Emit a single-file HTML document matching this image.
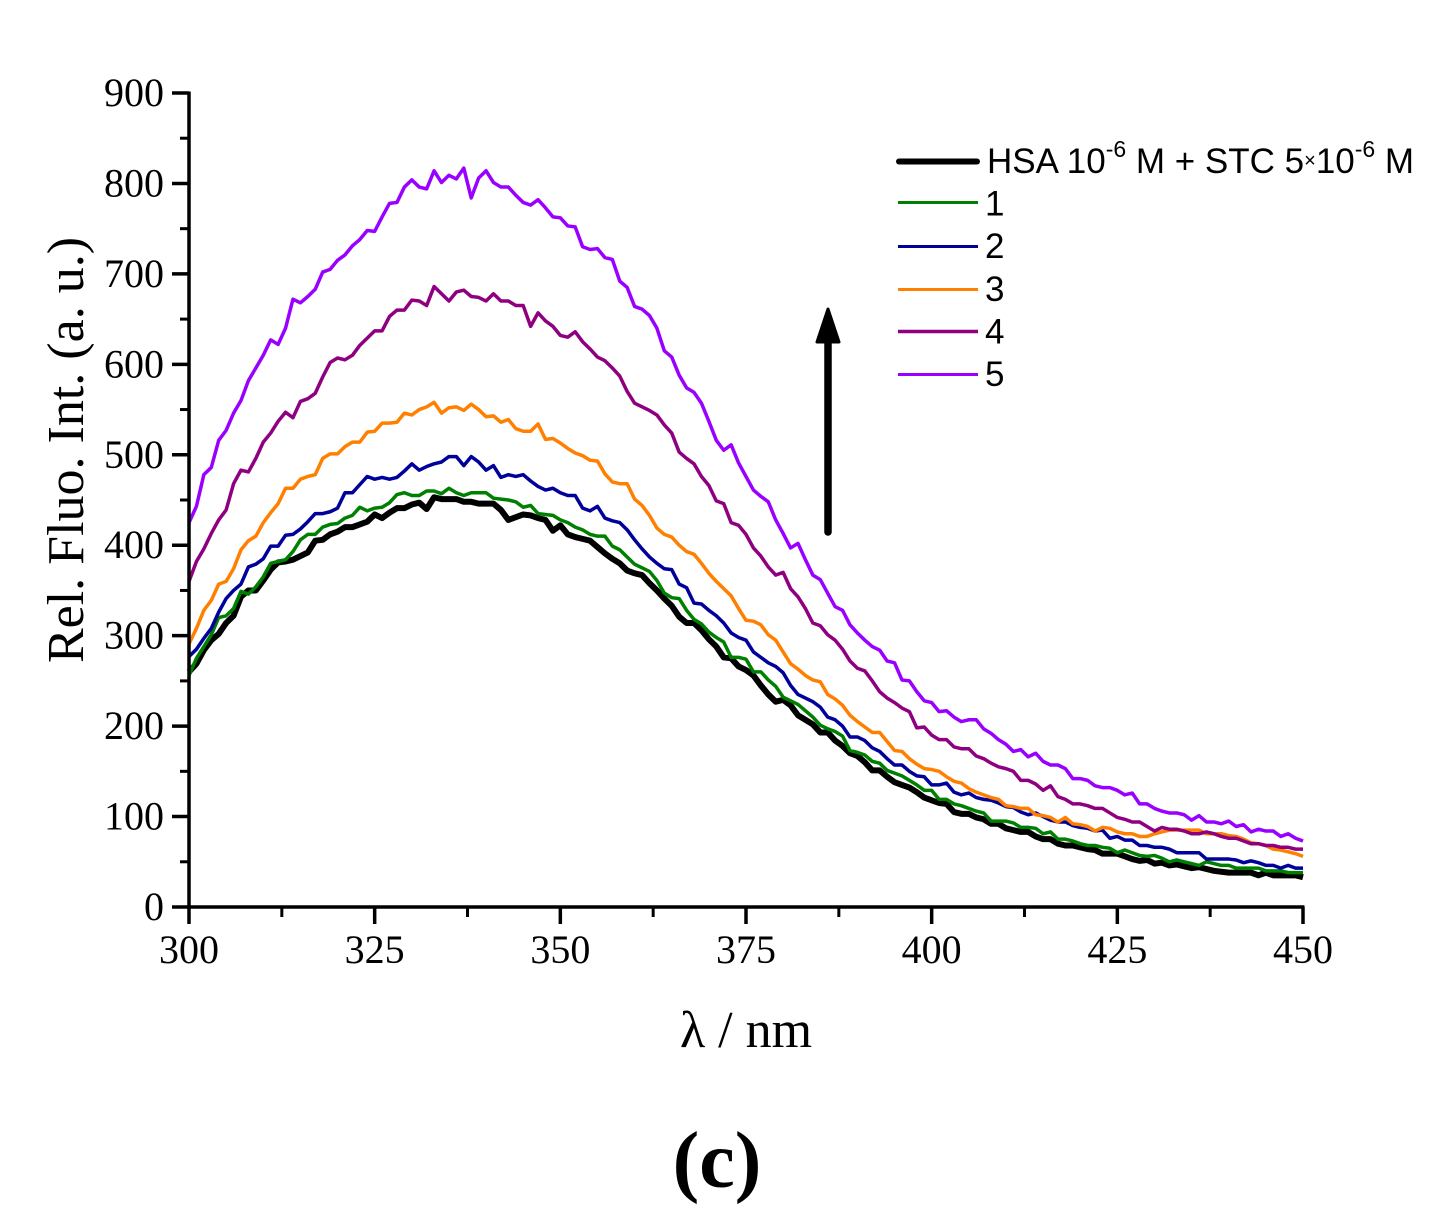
<!DOCTYPE html>
<html lang="en">
<head>
<meta charset="utf-8">
<title>Fluorescence spectra</title>
<style>
html,body{margin:0;padding:0;background:#fff;}
#chart{display:block;width:1455px;height:1227px;}
.serif{font-family:"Liberation Serif",serif;fill:#000;}
.sans{font-family:"Liberation Sans",sans-serif;fill:#000;}
</style>
</head>
<body>
<svg id="chart" xmlns="http://www.w3.org/2000/svg" width="1455" height="1227" viewBox="0 0 1455 1227">
  <rect x="0" y="0" width="1455" height="1227" fill="#fff"/>
  <g id="series-layer"></g>
  <g id="axis-layer"></g>
  <text class="serif" font-size="52" text-anchor="middle" transform="translate(83,450) rotate(-90)">Rel. Fluo. Int. (a. u.)</text>
  <text class="serif" font-size="52" text-anchor="middle" x="746" y="1047">λ / nm</text>
  <text class="serif" font-size="80" font-weight="bold" text-anchor="middle" x="717" y="1187">(c)</text>
  <g>
    <line x1="828" y1="532" x2="828" y2="340" stroke="#000" stroke-width="7.5" stroke-linecap="round"/>
    <polygon points="828,309 839,342 817,342" fill="#000" stroke="#000" stroke-width="3" stroke-linejoin="round"/>
  </g>
  <g>
    <g>
      <line x1="899" y1="161.5" x2="977" y2="161.5" stroke="#000" stroke-width="6" stroke-linecap="round"/>
      <text class="sans" font-size="35" x="987" y="173">HSA 10<tspan font-size="23" dy="-16">-6</tspan><tspan dy="16"> M + STC 5</tspan><tspan font-size="20" dy="-6">×</tspan><tspan dy="6">10</tspan><tspan font-size="23" dy="-16">-6</tspan><tspan dy="16"> M</tspan></text>
    </g>
    <g>
      <line x1="898" y1="202.5" x2="978" y2="202.5" stroke="#008000" stroke-width="3"/>
      <text class="sans" font-size="35" x="985" y="215.5">1</text>
    </g>
    <g>
      <line x1="898" y1="246.5" x2="978" y2="246.5" stroke="#00009b" stroke-width="3"/>
      <text class="sans" font-size="35" x="985" y="258">2</text>
    </g>
    <g>
      <line x1="898" y1="289.5" x2="978" y2="289.5" stroke="#ff8000" stroke-width="3"/>
      <text class="sans" font-size="35" x="985" y="301">3</text>
    </g>
    <g>
      <line x1="898" y1="331.5" x2="978" y2="331.5" stroke="#8f0080" stroke-width="3.5"/>
      <text class="sans" font-size="35" x="985" y="343.5">4</text>
    </g>
    <g>
      <line x1="898" y1="374.5" x2="978" y2="374.5" stroke="#9900ff" stroke-width="3"/>
      <text class="sans" font-size="35" x="985" y="386">5</text>
    </g>
  </g>
</svg>
<script>
var wavelengths = [300,301,302,303,304,305,306,307,308,309,310,311,312,313,314,315,316,317,318,319,320,321,322,323,324,325,326,327,328,329,330,331,332,333,334,335,336,337,338,339,340,341,342,343,344,345,346,347,348,349,350,351,352,353,354,355,356,357,358,359,360,361,362,363,364,365,366,367,368,369,370,371,372,373,374,375,376,377,378,379,380,381,382,383,384,385,386,387,388,389,390,391,392,393,394,395,396,397,398,399,400,401,402,403,404,405,406,407,408,409,410,411,412,413,414,415,416,417,418,419,420,421,422,423,424,425,426,427,428,429,430,431,432,433,434,435,436,437,438,439,440,441,442,443,444,445,446,447,448,449,450];
var hsaValues = [260,269,284,295,302,314,322,343,350,350,361,373,381,382,384,388,392,405,406,412,415,420,420,423,426,434,430,436,441,441,445,447,440,453,451,451,451,448,448,446,446,446,439,428,431,434,433,430,428,416,422,412,409,407,405,398,391,385,380,372,369,367,358,350,341,333,321,314,314,306,296,288,276,275,266,262,256,245,235,227,229,223,212,207,202,193,193,184,178,170,167,160,151,151,144,138,135,132,127,121,118,115,114,105,103,103,99,97,92,92,87,85,83,83,78,75,75,70,68,68,66,64,63,59,59,59,56,53,51,52,48,49,46,47,45,43,44,42,40,39,38,38,38,38,35,38,35,35,35,35,33];
var series1Values = [256,275,288,301,320,322,330,349,346,354,365,380,382,384,393,406,412,412,420,423,424,430,433,442,438,441,442,447,456,458,455,455,460,460,457,463,458,455,458,458,458,452,451,450,448,442,444,435,434,433,428,425,420,417,412,410,410,399,395,387,379,375,371,361,347,342,341,328,318,313,304,298,293,276,276,274,260,260,251,244,232,228,224,217,210,201,197,194,189,173,171,168,161,159,151,148,145,140,135,129,129,119,119,114,112,109,106,104,95,95,95,93,88,88,87,81,83,75,75,73,70,68,68,66,65,60,63,60,57,56,57,54,50,52,50,48,46,50,48,46,46,43,43,43,43,40,40,40,38,38,38];
var series2Values = [277,285,297,308,326,341,350,357,376,379,385,399,399,411,412,418,426,435,435,437,441,458,458,467,476,473,475,473,475,482,490,483,487,490,492,498,498,488,498,492,483,488,475,478,476,478,471,465,461,463,458,455,455,441,438,443,430,427,425,417,406,396,387,380,374,373,357,353,336,335,328,322,314,303,298,295,282,276,270,266,259,245,235,231,227,221,210,207,200,188,188,184,176,172,164,157,157,150,145,144,135,135,137,127,124,126,121,119,118,115,111,110,105,102,104,100,96,94,94,90,88,87,84,85,76,78,74,74,68,68,66,66,64,60,60,60,60,53,53,53,53,52,49,51,49,46,46,43,46,43,43];
var series3Values = [291,308,328,339,357,360,374,395,405,410,425,436,446,463,463,473,476,478,496,501,501,509,514,514,525,526,535,535,536,546,544,550,553,558,546,552,553,549,556,550,542,543,536,539,529,526,526,534,517,518,513,507,502,499,494,493,479,470,468,468,451,444,433,419,412,409,400,393,390,380,369,360,352,344,330,317,316,312,301,295,282,269,263,256,251,249,235,230,223,212,205,199,193,193,183,173,172,164,158,153,152,150,144,139,137,131,127,124,121,119,112,111,109,109,102,101,99,94,99,92,91,89,84,88,87,83,81,81,78,78,81,83,85,85,85,85,85,81,81,81,79,78,75,71,70,68,64,63,61,59,56];
var series4Values = [360,382,396,413,428,439,468,483,481,496,514,524,537,547,541,559,562,568,586,602,607,605,610,621,629,637,637,653,660,660,671,670,665,686,678,670,680,682,675,674,670,678,670,670,665,665,642,657,648,642,632,630,636,625,617,608,604,596,587,570,557,553,549,544,533,524,503,496,490,476,466,449,446,425,422,412,397,388,376,367,370,352,343,330,314,311,301,295,285,272,264,261,250,238,231,226,220,216,198,199,190,185,185,177,175,175,167,164,159,155,153,150,140,140,136,129,134,122,119,114,114,112,109,109,104,99,97,94,94,89,84,88,86,86,84,81,81,83,81,78,76,76,73,70,70,68,68,66,66,64,64];
var series5Values = [425,443,478,486,516,527,546,560,582,596,610,627,622,640,672,668,675,683,702,705,715,721,731,738,748,747,763,778,779,796,804,796,794,814,801,809,805,817,784,806,814,801,796,796,787,779,776,782,773,763,762,753,752,730,727,728,718,716,692,685,664,661,654,640,615,608,588,574,569,557,537,516,505,511,491,476,461,454,448,428,413,397,402,384,367,362,347,332,328,312,303,295,288,284,272,270,251,250,238,228,226,216,217,210,205,207,207,197,192,185,180,172,174,166,170,161,157,157,153,142,142,140,134,132,132,129,124,126,114,114,109,106,104,104,102,96,101,94,94,92,95,89,91,83,86,84,84,78,81,76,73];
var xTickLabels = [300,325,350,375,400,425,450];
var yTickLabels = [0,100,200,300,400,500,600,700,800,900];

var SVGNS = 'http://www.w3.org/2000/svg';
var plot = {left:189, right:1303, top:93, bottom:907, xMin:300, xMax:450, yMin:0, yMax:900};

function sx(v){ return plot.left + (v - plot.xMin) * (plot.right - plot.left) / (plot.xMax - plot.xMin); }
function sy(v){ return plot.bottom - (v - plot.yMin) * (plot.bottom - plot.top) / (plot.yMax - plot.yMin); }

function drawSeries(name, values, color, width){
  var pts = values.map(function(v, i){ return sx(wavelengths[i]).toFixed(2) + ',' + sy(v).toFixed(2); }).join(' ');
  var el = document.createElementNS(SVGNS, 'polyline');
  
  
  el.setAttribute('points', pts);
  el.setAttribute('fill', 'none');
  el.setAttribute('stroke', color);
  el.setAttribute('stroke-width', width);
  el.setAttribute('stroke-linejoin', 'round');
  document.getElementById('series-layer').appendChild(el);
}

function axisLine(name, x1, y1, x2, y2, w){
  var el = document.createElementNS(SVGNS, 'line');
  
  
  el.setAttribute('x1', x1);
  el.setAttribute('y1', y1);
  el.setAttribute('x2', x2);
  el.setAttribute('y2', y2);
  el.setAttribute('stroke', '#000');
  el.setAttribute('stroke-width', w);
  document.getElementById('axis-layer').appendChild(el);
}

function axisLabel(name, txt, x, y, anchor){
  var el = document.createElementNS(SVGNS, 'text');
  
  
  el.setAttribute('class', 'serif');
  el.setAttribute('font-size', '40');
  el.setAttribute('text-anchor', anchor);
  el.setAttribute('x', x);
  el.setAttribute('y', y);
  el.textContent = txt;
  document.getElementById('axis-layer').appendChild(el);
}

drawSeries('series-hsa', hsaValues, '#000000', 6);
drawSeries('series-1', series1Values, '#008000', 3.5);
drawSeries('series-2', series2Values, '#00009b', 3.5);
drawSeries('series-3', series3Values, '#ff8000', 3.5);
drawSeries('series-4', series4Values, '#8f0080', 3.5);
drawSeries('series-5', series5Values, '#9900ff', 3.5);

axisLine('y-axis-line', plot.left, plot.top - 1.5, plot.left, plot.bottom, 3.5);
axisLine('x-axis-line', plot.left, plot.bottom, plot.right + 1.5, plot.bottom, 3.5);

xTickLabels.forEach(function(t, i){
  axisLine('x-tick-major', sx(t), plot.bottom, sx(t), plot.bottom + 17, 3.5);
  axisLabel('x-tick-label', String(t), sx(t), 963, 'middle');
  if (i < xTickLabels.length - 1) {
    var mid = (t + xTickLabels[i + 1]) / 2;
    axisLine('x-tick-minor', sx(mid), plot.bottom, sx(mid), plot.bottom + 10, 3);
  }
});
yTickLabels.forEach(function(t, i){
  axisLine('y-tick-major', plot.left - 17, sy(t), plot.left, sy(t), 3.5);
  axisLabel('y-tick-label', String(t), 164, sy(t) + 13, 'end');
  if (i < yTickLabels.length - 1) {
    var mid = (t + yTickLabels[i + 1]) / 2;
    axisLine('y-tick-minor', plot.left - 9, sy(mid), plot.left, sy(mid), 3);
  }
});
</script>
</body>
</html>
